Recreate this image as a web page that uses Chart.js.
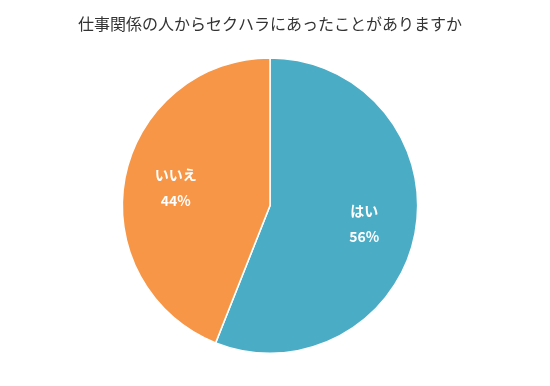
<!DOCTYPE html>
<html>
<head>
<meta charset="utf-8">
<script src="https://cdn.jsdelivr.net/npm/chart.js@4"></script>
<style>
  html, body { margin: 0; padding: 0; background: #fff; }
  #wrap { width: 550px; height: 386px; }
</style>
</head>
<body>
<div id="wrap"><canvas id="myPieChart"></canvas></div>
<script>
var titleText = '仕事関係の人からセクハラにあったことがありますか';
var labelData = ['はい', 'いいえ'];
var numericData = [56, 44];
var colorData = ['#4BACC6', '#F79646'];

// labels drawn inside each slice: name on top, percent below
var sliceLabels = {
    id: 'sliceLabels',
    afterDatasetsDraw: function(chart) {
        var ctx = chart.ctx;
        var meta = chart.getDatasetMeta(0);
        ctx.save();
        ctx.fillStyle = '#fff';
        ctx.font = 'bold 14px "Noto Sans CJK JP", sans-serif';
        ctx.textAlign = 'center';
        ctx.textBaseline = 'middle';
        meta.data.forEach(function(arc, i) {
            var mid = (arc.startAngle + arc.endAngle) / 2;
            var r = arc.outerRadius * 0.65;
            var x = arc.x + Math.cos(mid) * r;
            var y = arc.y + Math.sin(mid) * r;
            ctx.fillText(labelData[i], x, y - 13);
            ctx.fillText(numericData[i] + '%', x, y + 13);
        });
        ctx.restore();
    }
};

new Chart(document.getElementById('myPieChart'), {
    type: 'pie',
    data: {
        labels: labelData,
        datasets: [{
            data: numericData,
            backgroundColor: colorData,
            borderColor: '#fff',
            borderWidth: 1.5
        }]
    },
    options: {
        responsive: true,
        maintainAspectRatio: false,
        animation: false,
        layout: { padding: { left: 0, right: 10, top: 0, bottom: 32 } },
        plugins: {
            legend: { display: false },
            tooltip: { enabled: false },
            title: {
                display: true,
                text: titleText,
                color: '#333',
                font: { family: '"Noto Sans CJK JP", sans-serif', size: 16, weight: 'normal' },
                padding: { top: 14, bottom: 24 }
            }
        }
    },
    plugins: [sliceLabels]
});
</script>
</body>
</html>
